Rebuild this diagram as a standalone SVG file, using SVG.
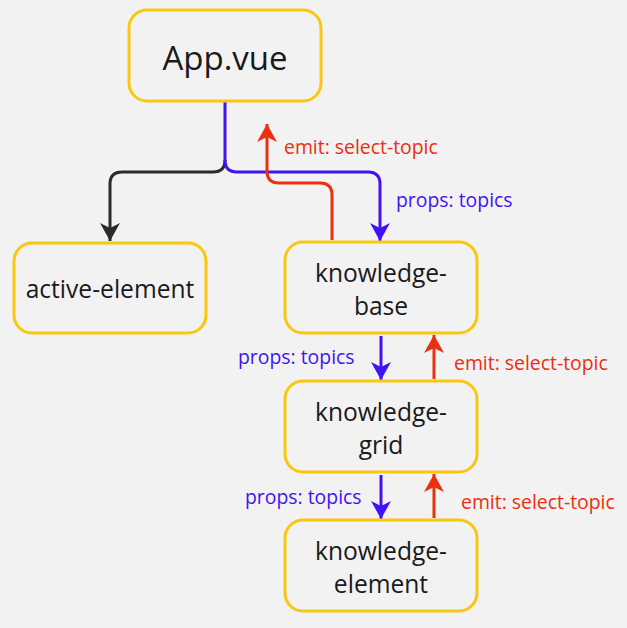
<svg xmlns="http://www.w3.org/2000/svg" width="627" height="628" viewBox="0 0 627 628">
<style>
.box{fill:#f2f2f2;stroke:#fac710;stroke-width:3}
.t{font-family:"Open Sans","Noto Sans",sans-serif;fill:#1a1a1a;text-anchor:middle;dominant-baseline:central}
.n{font-size:24.6px}
.lbl{font-family:"Open Sans","Noto Sans",sans-serif;font-size:19.4px;dominant-baseline:central}
.c{fill:none;stroke-width:3}
</style>
<defs>
<marker id="ab" markerUnits="userSpaceOnUse" markerWidth="22" markerHeight="22" viewBox="-19 -11 20 22" refX="0" refY="0" orient="auto"><path d="M0,0 L-18,-10 L-13,0 L-18,10 Z" fill="#4312f2"/></marker>
<marker id="ar" markerUnits="userSpaceOnUse" markerWidth="22" markerHeight="22" viewBox="-19 -11 20 22" refX="0" refY="0" orient="auto"><path d="M0,0 L-18,-10 L-13,0 L-18,10 Z" fill="#eb300e"/></marker>
<marker id="ak" markerUnits="userSpaceOnUse" markerWidth="22" markerHeight="22" viewBox="-19 -11 20 22" refX="0" refY="0" orient="auto"><path d="M0,0 L-18,-10 L-13,0 L-18,10 Z" fill="#2b2b2b"/></marker>
</defs>
<rect width="627" height="628" fill="#f2f2f2"/>
<g id="connectors">
<path class="c" stroke="#2b2b2b" d="M225,160 Q225,172 213,172 L122,172 Q110,172 110,184 L110,241" marker-end="url(#ak)"/>
<path class="c" stroke="#4312f2" d="M225,101 L225,160 Q225,172 237,172 L368,172 Q380,172 380,184 L380,241" marker-end="url(#ab)"/>
<path class="c" stroke="#eb300e" d="M332,240 L332,195 Q332,183 320,183 L279,183 Q267,183 267,171 L267,124" marker-end="url(#ar)"/>
<path class="c" stroke="#4312f2" d="M381,336 L381,380" marker-end="url(#ab)"/>
<path class="c" stroke="#eb300e" d="M434,379 L434,335" marker-end="url(#ar)"/>
<path class="c" stroke="#4312f2" d="M381,475 L381,519" marker-end="url(#ab)"/>
<path class="c" stroke="#eb300e" d="M434,518 L434,474" marker-end="url(#ar)"/>
<text class="lbl" x="284" y="146" fill="#eb300e">emit: select-topic</text>
<text class="lbl" x="396" y="199" fill="#4312f2">props: topics</text>
<text class="lbl" x="238" y="356" fill="#4312f2">props: topics</text>
<text class="lbl" x="454" y="362" fill="#eb300e">emit: select-topic</text>
<text class="lbl" x="245" y="496" fill="#4312f2">props: topics</text>
<text class="lbl" x="461" y="501" fill="#eb300e">emit: select-topic</text>
</g>
<g id="app">
<rect class="box" x="129" y="10" width="192" height="91" rx="18"/>
<text class="t" x="225" y="57" font-size="33">App.vue</text>
</g>
<g id="active-element">
<rect class="box" x="14" y="243" width="192" height="90" rx="18"/>
<text class="t n" x="110" y="288">active-element</text>
</g>
<g id="knowledge-base">
<rect class="box" x="285" y="242" width="192" height="91" rx="18"/>
<text class="t n" x="381" y="272">knowledge-</text>
<text class="t n" x="381" y="305">base</text>
</g>
<g id="knowledge-grid">
<rect class="box" x="285" y="381" width="192" height="91" rx="18"/>
<text class="t n" x="381" y="411">knowledge-</text>
<text class="t n" x="381" y="444">grid</text>
</g>
<g id="knowledge-element">
<rect class="box" x="285" y="520" width="192" height="91" rx="18"/>
<text class="t n" x="381" y="550">knowledge-</text>
<text class="t n" x="381" y="583">element</text>
</g>
</svg>
